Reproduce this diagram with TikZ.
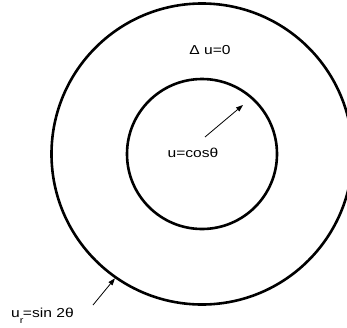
\documentclass[tikz,border=0pt]{standalone}
\usepackage{fontspec}
\setmainfont[FakeStretch=1.2]{Liberation Sans}
\usetikzlibrary{arrows.meta}
\begin{document}
\begin{tikzpicture}[x=1pt,y=-1pt,
  ring/.style={circle,draw=black,line width=2.6pt,inner sep=0pt},
  ptr/.style={draw=black,line width=0.8pt,-{Triangle[length=7pt,width=5pt]}},
  lbl/.style={inner sep=0pt,font=\fontsize{13}{15}\selectfont}]
\useasboundingbox (0,0) rectangle (347,327);
\clip (0,0) rectangle (347,327);
\node[ring,minimum size=301pt] (outer) at (202,154) {};
\node[ring,minimum size=150pt] (inner) at (202,154) {};
\coordinate (a1) at (205,137);
\coordinate (a2) at (243,105);
\coordinate (b1) at (93,305);
\draw[ptr] (a1) -- (a2);
\draw[ptr] (b1) -- (outer.235);
\node[lbl] (lap) at (210,50) {Δ u=0};
\node[lbl] (bc1) at (193,153) {u=cosθ};
\node[lbl,anchor=base west] (bc2) at (11,317) {u\raisebox{-0.5em}{\fontsize{9}{10}\selectfont r}\kern-0.5pt=sin 2θ};
\end{tikzpicture}
\end{document}
